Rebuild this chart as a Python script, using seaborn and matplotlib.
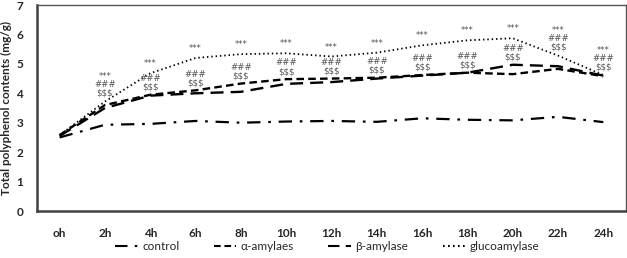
import numpy as np
import pandas as pd
import seaborn as sns
import matplotlib
matplotlib.use("Agg")
import matplotlib.pyplot as plt

# ---------------- data ----------------
times = ["oh", "2h", "4h", "6h", "8h", "10h", "12h", "14h", "16h", "18h", "20h", "22h", "24h"]
control = [2.50, 2.93, 2.96, 3.06, 3.00, 3.04, 3.06, 3.03, 3.15, 3.10, 3.08, 3.20, 3.02]
alpha_amylaes = [2.58, 3.60, 3.95, 4.10, 4.33, 4.48, 4.50, 4.53, 4.62, 4.70, 4.65, 4.83, 4.58]
beta_amylase = [2.55, 3.50, 3.92, 4.00, 4.05, 4.32, 4.38, 4.50, 4.60, 4.70, 4.97, 4.92, 4.60]
glucoamylase = [2.58, 3.72, 4.68, 5.20, 5.33, 5.36, 5.25, 5.38, 5.63, 5.80, 5.87, 5.28, 4.62]
series_names = ["control", "α-amylaes", "β-amylase", "glucoamylase"]
sig_gluco = ["", "***", "***", "***", "***", "***", "***", "***", "***", "***", "***", "***", "***"]
sig_alpha = ["", "###", "###", "###", "###", "###", "###", "###", "###", "###", "###", "###", "###"]
sig_beta = ["", "$$$", "$$$", "$$$", "$$$", "$$$", "$$$", "$$$", "$$$", "$$$", "$$$", "$$$", "$$$"]
yticks = [0, 1, 2, 3, 4, 5, 6, 7]

# ---------------- build table ----------------
rows = []
for name, vals in zip(series_names, [control, alpha_amylaes, beta_amylase, glucoamylase]):
    for i, v in enumerate(vals):
        rows.append({"idx": i, "time": times[i], "value": v, "series": name})
df = pd.DataFrame(rows)

sns.set_theme(style="white")
plt.rcParams["font.family"] = ["Lato", "DejaVu Sans"]

fig = plt.figure(figsize=(6.27, 2.58), dpi=100)
ax = fig.add_axes([37 / 627, 47 / 258, 589 / 627, 206 / 258])

dashes = {
    "control": (6, 3.5, 1.2, 3.5),
    "α-amylaes": (3.2, 1.8),
    "β-amylase": (5.5, 3),
    "glucoamylase": (0.8, 1.6),
}
widths = {"control": 1.6, "α-amylaes": 1.7, "β-amylase": 1.7, "glucoamylase": 1.3}

sns.lineplot(data=df, x="idx", y="value", hue="series", style="series",
             palette={n: "black" for n in series_names}, dashes=dashes,
             hue_order=series_names, style_order=series_names,
             ax=ax, legend=True, sort=False)
for line, name in zip(ax.get_lines(), series_names):
    line.set_linewidth(widths[name])

# significance marks
for i in range(len(times)):
    top_ab = max(alpha_amylaes[i], beta_amylase[i])
    g = glucoamylase[i]
    kw = dict(ha="center", va="center", fontsize=6.2, color="#555555",
              family=["DejaVu Sans"])
    if not sig_gluco[i]:
        continue
    if g - top_ab < 0.6:
        ax.text(i, g + 0.28, sig_beta[i], **kw)
        ax.text(i, g + 0.57, sig_alpha[i], **kw)
        ax.text(i, g + 0.84, sig_gluco[i], **kw)
    else:
        ax.text(i, top_ab + 0.26, sig_beta[i], **kw)
        ax.text(i, top_ab + 0.55, sig_alpha[i], **kw)
        ax.text(i, g + 0.32, sig_gluco[i], **kw)

ax.set_xlim(-0.5, len(times) - 0.5)
ax.set_ylim(0, 7)
ax.set_yticks(yticks)
ax.set_yticklabels([str(t) for t in yticks], fontsize=8.5, fontweight="bold")
ax.set_xticks(np.arange(0.5, len(times) - 1, 1.0))
ax.set_xticklabels([])
ax.set_xticks(np.arange(len(times)), minor=True)
ax.set_xticklabels(times, minor=True, fontsize=8.5, fontweight="bold")
ax.tick_params(axis="x", which="major", direction="in", length=3, width=1.2, color="#404040")
ax.tick_params(axis="x", which="minor", length=0, pad=12)
ax.tick_params(axis="y", direction="in", length=3, width=1.2, color="#404040", pad=10)

ax.set_xlabel("")
ax.set_ylabel("Total polyphenol contents (mg/g)", fontsize=8.5, fontweight="bold", labelpad=3)

for s in ["top", "right"]:
    ax.spines[s].set_color("#555555")
    ax.spines[s].set_linewidth(1.0)
for s in ["left", "bottom"]:
    ax.spines[s].set_color("#404040")
    ax.spines[s].set_linewidth(1.8)

handles, labels = ax.get_legend_handles_labels()
ax.get_legend().remove()
fig.legend(handles, labels, loc="center", bbox_to_anchor=(0.522, 0.043), ncol=4,
           frameon=False, fontsize=8.5, handlelength=1.9, columnspacing=2.9,
           handletextpad=0.4)

fig.savefig("out.png", dpi=100)
